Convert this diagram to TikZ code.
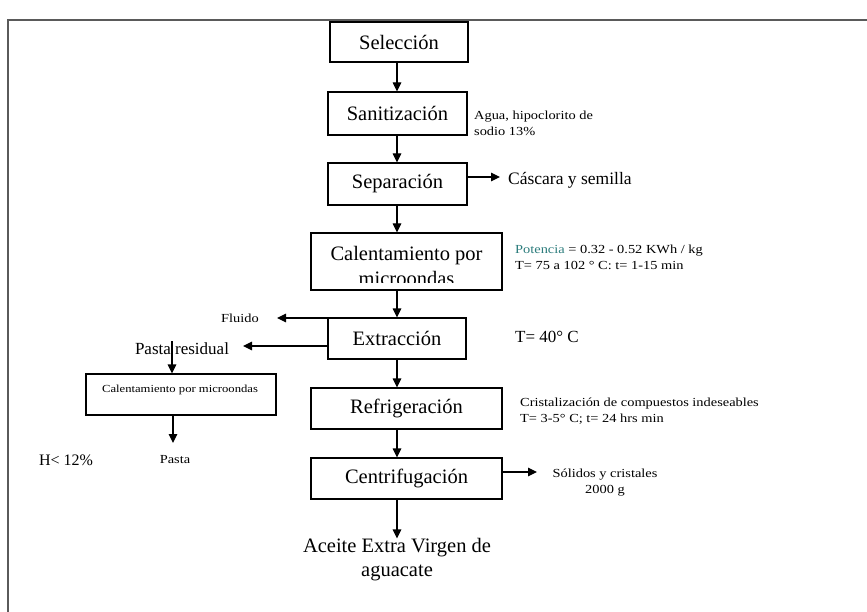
\documentclass[tikz,border=0pt]{standalone}
\usepackage{fontspec}
\setmainfont{Liberation Serif}
\newfontfamily\notefont{Liberation Serif}[FakeStretch=1.17]
\usetikzlibrary{arrows.meta}
\definecolor{potcolor}{RGB}{45,125,125}
\definecolor{framegray}{RGB}{90,90,90}

\tikzset{
  stage/.style={draw=black, line width=1.1pt, inner sep=0pt,
    font=\fontsize{20.5}{23.5}\selectfont},
  flow/.style={line width=1.1pt, -{Triangle[width=8.5pt,length=9pt]}},
  note/.style={inner sep=0pt, align=left, anchor=west,
    font=\notefont\fontsize{12.3}{16}\selectfont},
  midnote/.style={inner sep=0pt, font=\fontsize{17}{19}\selectfont},
  bigtext/.style={inner sep=0pt, align=center, font=\fontsize{20.5}{24}\selectfont},
}

\begin{document}
\begin{tikzpicture}[x=1pt, y=-1pt]
  \useasboundingbox (0,0) rectangle (867,612);
  \fill[white] (0,0) rectangle (867,612);

  % outer frame (top and left sides)
  \draw[framegray, line width=1.4pt] (8,612) -- (8,20) -- (867,20);

  % main column axis
  \coordinate (axis) at (397,0);

  % process stages
  \node[stage, minimum width=138pt, minimum height=40pt] (sel) at (399,42) {Selección};
  \node[stage, minimum width=139pt, minimum height=43pt] (san) at (397.5,113.5) {Sanitización};
  \node[stage, minimum width=139pt, minimum height=42pt] (sep) at (397.5,184) {Separación};
  \node[stage, minimum width=191pt, minimum height=57pt] (cal) at (406.5,261.5) {};
  \begin{scope}
    % the second line runs past the box and is cut off
    \clip (cal.north west) rectangle (cal.east |- 0,283);
    \node[bigtext, anchor=base] (caltexta) at (406.5,261) {Calentamiento por};
    \node[bigtext, anchor=base] (caltextb) at (406.5,285) {microondas};
  \end{scope}
  \node[stage, minimum width=138pt, minimum height=41pt] (ext) at (397,338.5) {Extracción};
  \node[stage, minimum width=191pt, minimum height=41pt] (ref) at (406.5,408.5) {Refrigeración};
  \node[stage, minimum width=191pt, minimum height=41pt] (cen) at (406.5,478.5) {Centrifugación};
  \node[bigtext] (ace) at (397,560) {Aceite Extra Virgen de\\aguacate};

  % side branch
  \node[draw=black, line width=1.1pt, minimum width=190pt, minimum height=41pt,
        inner sep=0pt] (mic) at (181,394.5) {};
  \node[inner sep=0pt, font=\notefont\fontsize{10.8}{12}\selectfont]
        (mictext) at (180,390) {Calentamiento por microondas};

  % main flow arrows
  \draw[flow] (sel.south -| axis) -- (san.north -| axis);
  \draw[flow] (san.south -| axis) -- (sep.north -| axis);
  \draw[flow] (sep.south -| axis) -- (cal.north -| axis);
  \draw[flow] (cal.south -| axis) -- (ext.north -| axis);
  \draw[flow] (ext.south -| axis) -- (ref.north -| axis);
  \draw[flow] (ref.south -| axis) -- (cen.north -| axis);
  \draw[flow] (cen.south -| axis) -- (ace.north -| axis);

  % annotations
  \node[note] (agua) at (474,123) {Agua, hipoclorito de\\sodio 13\%};
  \node[note] (pot) at (515,257) {\textcolor{potcolor}{Potencia} = 0.32 - 0.52 KWh / kg\\T= 75 a 102 ° C: t= 1-15 min};
  \node[midnote, anchor=west] (t40) at (515,337) {T= 40° C};
  \node[note] (cri) at (520,411) {Cristalización de compuestos indeseables\\T= 3-5° C; t= 24 hrs min};

  % outputs to the right
  \coordinate (cascTip) at (500,177);
  \draw[flow] (sep.east |- cascTip) -- (cascTip);
  \node[inner sep=0pt, anchor=west, font=\fontsize{17.5}{20}\selectfont]
        (casc) at (508,180) {Cáscara y semilla};

  \coordinate (solTip) at (537,472);
  \draw[flow] (cen.east |- solTip) -- (solTip);
  \node[note, anchor=center, align=center] (sol) at (605,482.5) {Sólidos y cristales\\2000 g};

  % outputs to the left
  \coordinate (fluTip) at (277,318);
  \draw[flow] (ext.west |- fluTip) -- (fluTip);
  \node[note, anchor=center] (flu) at (240,318) {Fluido};

  \coordinate (presTip) at (243,346);
  \draw[flow] (ext.west |- presTip) -- (presTip);
  \node[midnote] (pres) at (182,349) {Pasta residual};

  \coordinate (presDrop) at (172,341);
  \draw[flow] (presDrop) -- (mic.north -| presDrop);

  \coordinate (pastaTip) at (173,443);
  \draw[flow] (mic.south -| pastaTip) -- (pastaTip);
  \node[note, anchor=center] (pasta) at (175,460) {Pasta};
  \node[midnote, font=\fontsize{16}{18}\selectfont] (hum) at (66,460) {H< 12\%};
\end{tikzpicture}
\end{document}
